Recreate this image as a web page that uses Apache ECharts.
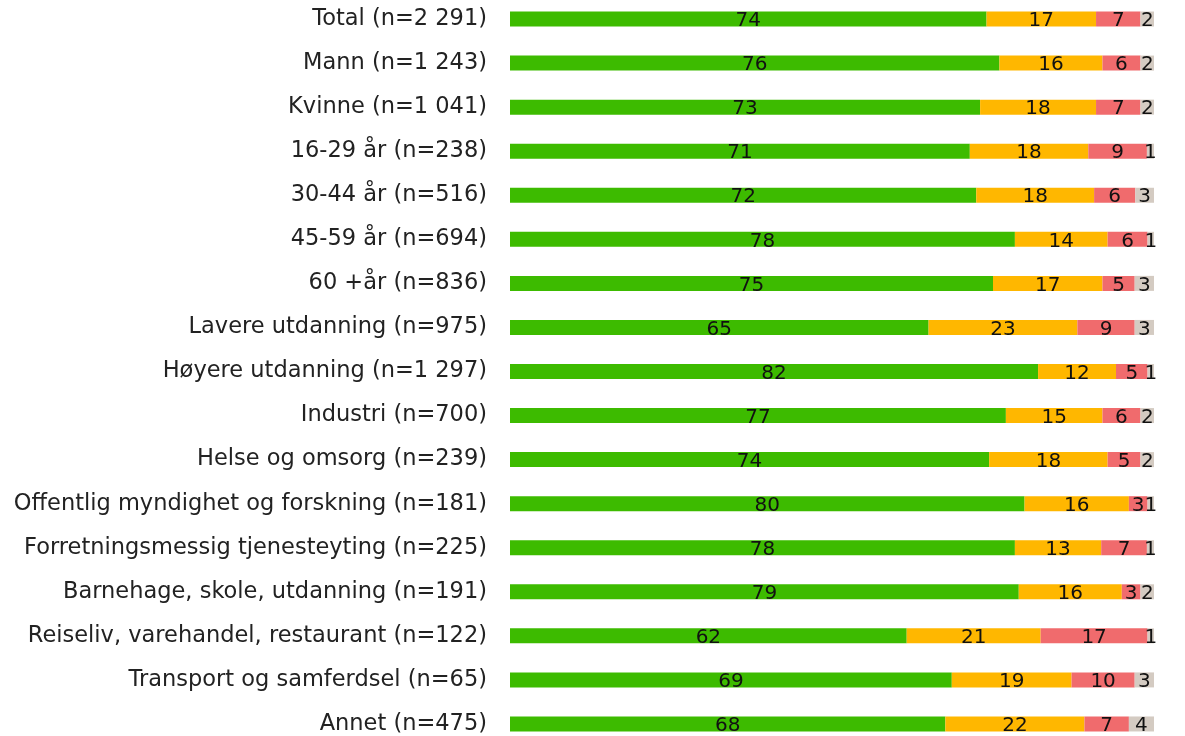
<!DOCTYPE html>
<html>
<head>
<meta charset="utf-8">
<script src="https://cdn.jsdelivr.net/npm/echarts@6/dist/echarts.min.js"></script>
<style>
  html, body { margin: 0; padding: 0; background: #fff; }
  #chart { width: 1185px; height: 736px; }
</style>
</head>
<body>
<div id="chart"></div>
<script>
const categories = [
  "Total (n=2 291)",
  "Mann (n=1 243)",
  "Kvinne (n=1 041)",
  "16-29 år (n=238)",
  "30-44 år (n=516)",
  "45-59 år (n=694)",
  "60 +år (n=836)",
  "Lavere utdanning (n=975)",
  "Høyere utdanning (n=1 297)",
  "Industri (n=700)",
  "Helse og omsorg (n=239)",
  "Offentlig myndighet og forskning (n=181)",
  "Forretningsmessig tjenesteyting (n=225)",
  "Barnehage, skole, utdanning (n=191)",
  "Reiseliv, varehandel, restaurant (n=122)",
  "Transport og samferdsel (n=65)",
  "Annet (n=475)",
];

// shares per row (labels show them rounded)
const greenValues  = [74.0, 76.0, 73.0, 71.4, 72.4, 78.4, 75.0, 65.0, 82.0, 77.0, 74.4, 79.9, 78.4, 79.0, 61.6, 68.6, 67.6];
const orangeValues = [17.0, 16.0, 18.0, 18.4, 18.3, 14.4, 17.0, 23.1, 12.1, 15.0, 18.4, 16.2, 13.4, 16.0, 20.8, 18.6, 21.6];
const redValues    = [ 6.9,  5.9,  6.9,  9.1,  6.4,  6.2,  5.0,  8.9,  4.9,  5.9,  5.1,  2.9,  7.1,  2.9, 16.6,  9.8,  6.9];
const greyValues   = [ 2.1,  2.1,  2.1,  1.1,  2.9,  1.0,  3.0,  3.0,  1.0,  2.1,  2.1,  1.0,  1.1,  2.1,  1.0,  3.0,  3.9];

const seriesColors = ["#3dbb00", "#ffb700", "#f06b6d", "#d4cbc2"];
const fontFamily = "'DejaVu Sans', sans-serif";

function makeSeries(data, color) {
  return {
    type: "bar",
    stack: "total",
    data,
    barWidth: 15,
    itemStyle: { color },
    label: {
      show: true,
      position: "inside",
      color: "#111",
      fontSize: 20,
      fontFamily,
      offset: [0, 2],
      formatter: (p) => Math.round(p.value),
    },
    emphasis: { disabled: true },
  };
}

const chart = echarts.init(document.getElementById("chart"), null, { renderer: "canvas" });

chart.setOption({
  animation: false,
  backgroundColor: "#fff",
  grid: { left: 510, right: 31, top: -3, height: 749, outerBoundsMode: "none" },
  xAxis: {
    type: "value",
    min: 0,
    max: 100,
    show: false,
  },
  yAxis: {
    type: "category",
    data: categories,
    inverse: true,
    axisLine: { show: false },
    axisTick: { show: false },
    splitLine: { show: false },
    axisLabel: {
      color: "#222",
      fontSize: 22.5,
      fontFamily,
      margin: 23,
    },
  },
  series: [
    makeSeries(greenValues, seriesColors[0]),
    makeSeries(orangeValues, seriesColors[1]),
    makeSeries(redValues, seriesColors[2]),
    makeSeries(greyValues, seriesColors[3]),
  ],
});
</script>
</body>
</html>
